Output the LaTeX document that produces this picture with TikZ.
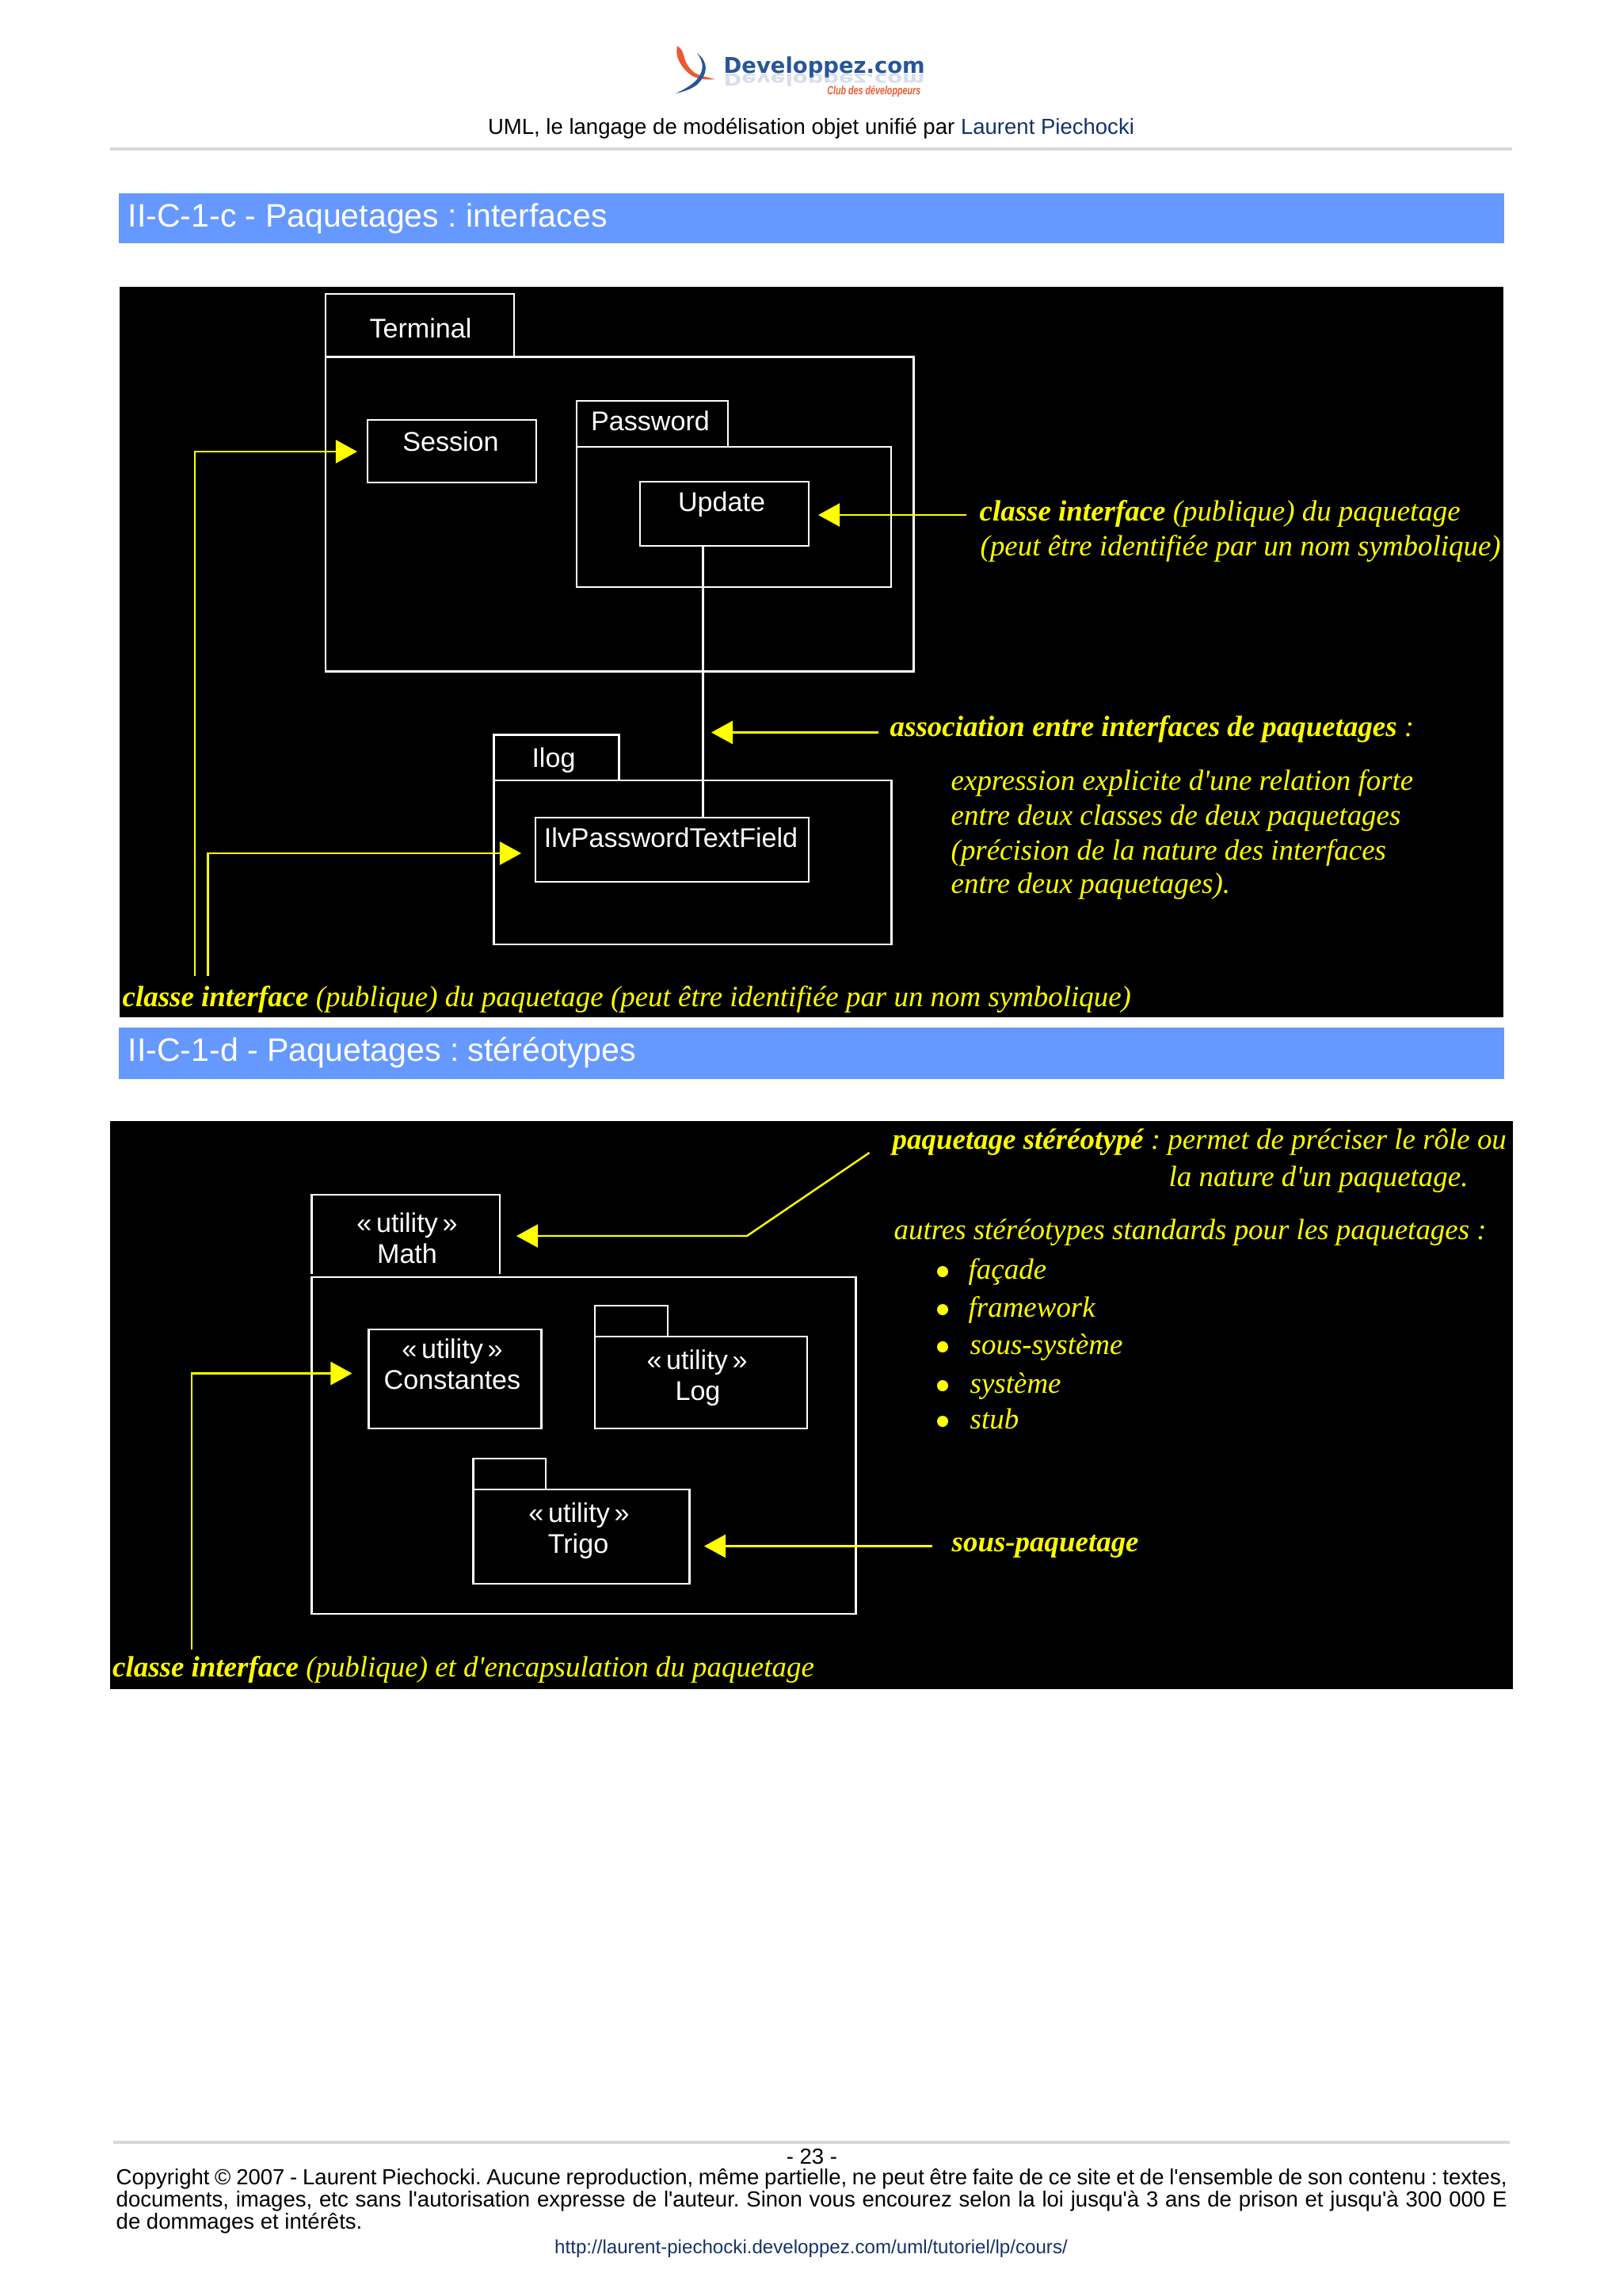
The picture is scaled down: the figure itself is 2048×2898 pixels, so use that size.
\documentclass[tikz,border=0pt]{standalone}
\usepackage{fontspec}
\usepackage{xcolor}
\usepackage{tikz}
\usetikzlibrary{arrows.meta, calc}
\setmainfont{Liberation Sans}
\newfontfamily\notefont{Liberation Serif}
\newfontfamily\logofont{DejaVu Sans}
\definecolor{barblue}{RGB}{102,153,255}
\definecolor{rulegray}{RGB}{216,216,218}
\definecolor{linkblue}{RGB}{20,50,105}
\definecolor{logoblue}{RGB}{40,85,155}
\definecolor{logofade}{RGB}{215,222,235}
\definecolor{logored}{RGB}{235,90,50}
\definecolor{noteyellow}{RGB}{255,255,0}
\tikzset{
  pkgbox/.style={rectangle, draw=white, anchor=north west, inner sep=0pt,
    outer sep=0pt, line width=0.7pt},
  pkgline/.style={draw=white, line width=0.7pt},
  pkglabel/.style={text=white, inner sep=0pt, anchor=mid, yshift=-0.025cm,
    font=\fontsize{9.7}{11}\selectfont},
  note/.style={text=noteyellow, inner sep=0pt, anchor=mid west,
    font=\notefont\itshape\fontsize{10.5}{12}\selectfont},
  yelarrow/.style={-{Triangle[length=0.27cm,width=0.29cm]}, draw=noteyellow, line width=0.7pt},
  yelline/.style={draw=noteyellow, line width=0.7pt},
  bullet/.style={circle, fill=noteyellow, minimum size=0.14cm, inner sep=0pt},
  bartitle/.style={text=white, inner sep=0pt, anchor=mid west,
    font=\fontsize{11.68}{14}\selectfont},
  pagetxt/.style={inner sep=0pt, font=\fontsize{7.83}{7.96}\selectfont}
}
\begin{document}
\frenchspacing
\begin{tikzpicture}[x=0.01cm, y=-0.01cm]
  \useasboundingbox (0,0) rectangle (2048,2898);

  % Page header
  \draw[line width=0.9pt, rulegray] (139,188) -- (1909,188);
  \node[pagetxt, anchor=mid] (headline) at (1024,160) {UML, le langage de modélisation objet unifié par \textcolor{linkblue}{Laurent Piechocki}};

  % Logo
  \fill[logored] (855,58) .. controls (868,66) and (858,76) .. (877,92) .. controls (884,96) and (895,98) .. (903,100) .. controls (890,101) and (878,100) .. (870,93) .. controls (858,83) and (852,70) .. (855,58) -- cycle;
  \fill[logoblue] (880,67) .. controls (894,78) and (895,92) .. (880,107) .. controls (872,113) and (862,116) .. (853,118) .. controls (866,112) and (880,104) .. (885,92) .. controls (889,82) and (885,74) .. (880,67) -- cycle;
  \node[inner sep=0pt, anchor=base west, text=logofade, font=\logofont\bfseries\fontsize{7.8}{9}\selectfont] (logoecho) at (913,94) {\scalebox{1}[-0.75]{Developpez.com}};
  \node[inner sep=0pt, anchor=base west, text=logoblue, font=\logofont\bfseries\fontsize{7.8}{9}\selectfont] (logoname) at (913,93) {Developpez.com};
  \node[inner sep=0pt, anchor=mid east, text=logored, font=\bfseries\itshape\fontsize{3.05}{4}\selectfont] (logoclub) at (1163,110) {\scalebox{1}[1.4]{Club des développeurs}};

  % First section bar
  \fill[barblue] (149.5,244) rectangle (1899,307);
  \node[bartitle] (titleone) at (161,277) {II-C-1-c - Paquetages : interfaces};

  % First image
  \fill[black] (151,362) rectangle (1898,1284);

  % Terminal package
  \node[pkgbox, minimum width=2.38cm, minimum height=0.79cm] (terminaltab) at (411,371) {};
  \node[pkgbox, minimum width=7.42cm, minimum height=3.97cm] (terminal) at (411,450.5) {};
  \node[pkglabel] (terminallbl) at (531,415) {Terminal};
  \node[pkgbox, minimum width=2.13cm, minimum height=0.79cm] (session) at (464,530) {};
  \node[pkglabel] (sessionlbl) at (569,558) {Session};

  % Password package
  \node[pkgbox, minimum width=1.91cm, minimum height=0.58cm] (passwordtab) at (728,506) {};
  \node[pkgbox, minimum width=3.97cm, minimum height=1.77cm] (password) at (728,564) {};
  \node[pkglabel] (passwordlbl) at (821,532) {Password};
  \node[pkgbox, minimum width=2.13cm, minimum height=0.81cm] (update) at (808,608) {};
  \node[pkglabel] (updatelbl) at (911,634) {Update};

  % Ilog package
  \node[pkgbox, minimum width=1.58cm, minimum height=0.575cm] (ilogtab) at (623.5,927.5) {};
  \node[pkgbox, minimum width=5.015cm, minimum height=2.07cm] (ilog) at (623.5,985) {};
  \node[pkglabel] (iloglbl) at (699,957) {Ilog};
  \node[pkgbox, minimum width=3.45cm, minimum height=0.81cm] (ilv) at (676,1032) {};
  \node[pkglabel] (ilvlbl) at (847,1058) {IlvPasswordTextField};

  % Association between interfaces
  \coordinate (assocx) at (887.5,0);
  \draw[pkgline] (update.south -| assocx) -- (ilv.north -| assocx);

  % Notes of the first image
  \node[note] (updatenote) at (1236,648) {\textbf{classe interface} (publique) du paquetage};
  \node[note] (updatenotetwo) at (1237,692) {(peut être identifiée par un nom symbolique)};
  \node[note] (assocnote) at (1123,920) {\textbf{association entre interfaces de paquetages} :};
  \node[note] (assocline1) at (1200,988) {expression explicite d\textquotesingle une relation forte};
  \node[note] (assocline2) at (1200,1032) {entre deux classes de deux paquetages};
  \node[note] (assocline3) at (1200,1076) {(précision de la nature des interfaces};
  \node[note] (assocline4) at (1200,1118) {entre deux paquetages).};
  \node[note] (classnote) at (154,1261) {\textbf{classe interface} (publique) du paquetage (peut être identifiée par un nom symbolique)};

  % Yellow arrows of the first image
  \coordinate (sessiontail) at (246,1232);
  \coordinate (sessiontip) at (451,570);
  \coordinate (ilvtail) at (262.5,1232);
  \coordinate (ilvtip) at (658,1077);
  \coordinate (updatetail) at (1220,650);
  \coordinate (updatetip) at (1033,650);
  \coordinate (assoctail) at (1109,924.5);
  \coordinate (assoctip) at (898,924.5);
  \draw[yelarrow] (sessiontail) |- (sessiontip);
  \draw[yelarrow] (ilvtail) |- (ilvtip);
  \draw[yelarrow] (updatetail) -- (updatetip);
  \draw[yelarrow] (assoctail) -- (assoctip);

  % Second section bar
  \fill[barblue] (149.5,1297) rectangle (1899,1362);
  \node[bartitle] (titletwo) at (161,1330) {II-C-1-d - Paquetages : stéréotypes};

  % Second image
  \fill[black] (139,1415) rectangle (1910,2132);

  % Math package
  \coordinate (mathtabsw) at (393.5,1608);
  \coordinate (mathtabse) at (631,1608);
  \coordinate (mathtabtop) at (0,1508);
  \draw[pkgline] (mathtabsw) -- (mathtabsw |- mathtabtop) -- (mathtabse |- mathtabtop) -- (mathtabse);
  \node[pkgbox, minimum width=6.865cm, minimum height=4.245cm] (math) at (393.5,1612) {};
  \node[pkglabel] (mathlblone) at (514,1544) {«\,utility\,»};
  \node[pkglabel] (mathlbltwo) at (514,1583) {Math};

  % Constantes class
  \node[pkgbox, minimum width=2.18cm, minimum height=1.25cm] (constantes) at (465.5,1678) {};
  \node[pkglabel] (constlblone) at (571,1703) {«\,utility\,»};
  \node[pkglabel] (constlbltwo) at (571,1742) {Constantes};

  % Log package
  \node[pkgbox, minimum width=0.92cm, minimum height=0.39cm] (logtab) at (751,1648) {};
  \node[pkgbox, minimum width=2.68cm, minimum height=1.16cm] (logbox) at (751,1687) {};
  \node[pkglabel] (loglblone) at (880,1717) {«\,utility\,»};
  \node[pkglabel] (loglbltwo) at (881,1756) {Log};

  % Trigo package
  \node[pkgbox, minimum width=0.915cm, minimum height=0.39cm] (trigotab) at (597.5,1841) {};
  \node[pkgbox, minimum width=2.73cm, minimum height=1.19cm] (trigo) at (597.5,1880) {};
  \node[pkglabel] (trigolblone) at (731,1910) {«\,utility\,»};
  \node[pkglabel] (trigolbltwo) at (730,1949) {Trigo};

  % Notes of the second image
  \node[note] (stereonote) at (1126,1441) {\textbf{paquetage stéréotypé} : permet de préciser le rôle ou};
  \node[note] (stereonotetwo) at (1475,1488) {la nature d\textquotesingle un paquetage.};
  \node[note] (otherlbl) at (1128,1555) {autres stéréotypes standards pour les paquetages :};
  \node[bullet] (dotone) at (1190,1605) {};
  \node[bullet] (dottwo) at (1190,1653) {};
  \node[bullet] (dotthree) at (1190,1700) {};
  \node[bullet] (dotfour) at (1190,1749) {};
  \node[bullet] (dotfive) at (1190,1794) {};
  \node[note] (facade) at (1222,1605) {façade};
  \node[note] (framework) at (1222,1653) {framework};
  \node[note] (soussys) at (1224,1700) {sous-système};
  \node[note] (systeme) at (1224,1749) {système};
  \node[note] (stub) at (1224,1794) {stub};
  \node[note] (souspaq) at (1201,1949) {\textbf{sous-paquetage}};
  \node[note] (encapsnote) at (141.5,2107) {\textbf{classe interface} (publique) et d\textquotesingle encapsulation du paquetage};

  % Yellow arrows of the second image
  \coordinate (mathtail) at (1097.5,1455);
  \coordinate (mathbend) at (943,1560);
  \coordinate (mathtip) at (652,1560);
  \coordinate (consttail) at (242,2082);
  \coordinate (consttip) at (444.5,1733.5);
  \coordinate (trigotail) at (1177,1951.5);
  \coordinate (trigotip) at (889,1951.5);
  \draw[yelarrow] (mathtail) -- (mathbend) -- (mathtip);
  \draw[yelarrow] (consttail) |- (consttip);
  \draw[yelarrow] (trigotail) -- (trigotip);

  % Page footer
  \draw[line width=0.9pt, rulegray] (142.5,2704) -- (1906,2704);
  \node[pagetxt, anchor=mid] (pagenum) at (1025,2722) {- 23 -};
  \node[pagetxt, anchor=north west, text width=17.55cm, align=justify] (copyright) at (146,2737) {Copyright © 2007 - Laurent Piechocki. Aucune reproduction, même partielle, ne peut être faite de ce site et de l\textquotesingle ensemble de son contenu : textes, documents, images, etc sans l\textquotesingle autorisation expresse de l\textquotesingle auteur. Sinon vous encourez selon la loi jusqu\textquotesingle à 3 ans de prison et jusqu\textquotesingle à 300 000 E\linebreak de dommages et intérêts.};
  \node[pagetxt, anchor=mid, text=linkblue, font=\fontsize{6.86}{8}\selectfont] (urlline) at (1024,2835) {http://laurent-piechocki.developpez.com/uml/tutoriel/lp/cours/};
\end{tikzpicture}
\end{document}
